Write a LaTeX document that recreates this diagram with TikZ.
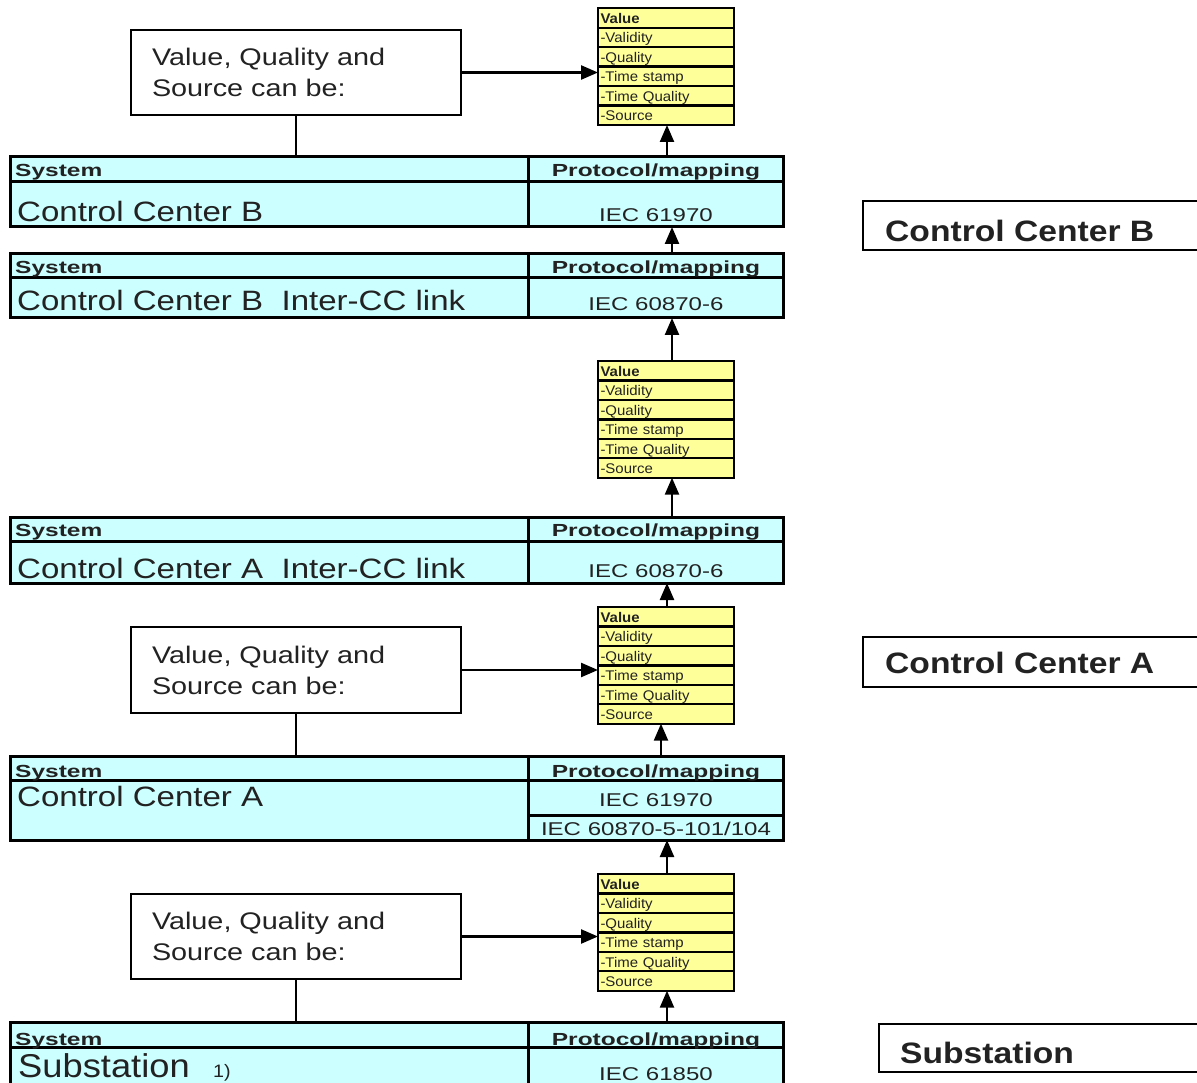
\documentclass[tikz,border=0pt]{standalone}
\usepackage{fontspec}
\setmainfont{Liberation Sans}
\newfontfamily\qfam[FakeStretch=1.07]{Liberation Sans}
\newfontfamily\hdrfam[FakeStretch=1.4]{Liberation Sans}
\newfontfamily\sysfam[FakeStretch=1.18]{Liberation Sans}
\newfontfamily\subfam[FakeStretch=1.1]{Liberation Sans}
\newfontfamily\protfam[FakeStretch=1.3]{Liberation Sans}
\newfontfamily\vfam[FakeStretch=1.2]{Liberation Sans}
\newfontfamily\lblfam[FakeStretch=1.14]{Liberation Sans}
\usetikzlibrary{arrows.meta,calc}

\definecolor{tablecyan}{HTML}{CCFFFF}
\definecolor{qualyellow}{HTML}{FFFF99}
\definecolor{inkgray}{HTML}{222222}

% rectangular table cell given by its two corners
\newcommand\tcell[5]{%
  \node[cell, minimum width={(#4-#2)*1pt}, minimum height={(#5-#3)*1pt}] (#1) at (#2,#3) {};}

% stack of the six data attributes
\newcommand\qualstack[2]{%
  \node[qcell] (#1-1) at (598,#2) {\textbf{Value}};
  \node[qcell] (#1-2) at (#1-1.south west) {-Validity};
  \node[qcell] (#1-3) at (#1-2.south west) {-Quality};
  \node[qcell] (#1-4) at (#1-3.south west) {-Time stamp};
  \node[qcell] (#1-5) at (#1-4.south west) {-Time Quality};
  \node[qcell] (#1-6) at (#1-5.south west) {-Source};}

\tikzset{
  cell/.style={draw=black, line width=3pt, fill=tablecyan, anchor=north west,
    inner sep=0pt, outer sep=0pt},
  qcell/.style={draw=black, line width=2.3pt, fill=qualyellow, anchor=north west,
    minimum width=136pt, minimum height=19.45pt, inner xsep=2.5pt, inner ysep=0pt,
    outer sep=0pt, text width=131pt, align=left, text height=11pt, text depth=0pt,
    text=inkgray, font=\qfam\fontsize{14}{16}\selectfont},
  vbox/.style={draw=black, line width=1.6pt, fill=white, anchor=north west,
    minimum width=330pt, inner xsep=21pt, inner ysep=0pt, outer sep=0pt,
    text width=288pt, align=left, text=inkgray,
    font=\vfam\fontsize{24}{31}\selectfont},
  lbox/.style={draw=black, line width=2.2pt, fill=white, anchor=north west,
    minimum width=400pt, inner sep=0pt, outer sep=0pt},
  txt/.style={inner sep=0pt, text=inkgray},
  hdr/.style={txt, font=\hdrfam\bfseries\fontsize{17.5}{20}\selectfont},
  sysname/.style={txt, anchor=base west, font=\sysfam\fontsize{28}{32}\selectfont},
  prot/.style={txt, anchor=base, font=\protfam\fontsize{18.5}{22}\selectfont},
  lbl/.style={txt, anchor=base west, font=\lblfam\bfseries\fontsize{29.5}{34}\selectfont},
  arr/.style={line width=2.4pt, -{Triangle[width=14pt,length=17pt]}},
  link/.style={line width=1.6pt},
}

\begin{document}
\begin{tikzpicture}[x=1pt, y=-1pt]
\useasboundingbox (0,0) rectangle (1197,1083);
\clip (0,0) rectangle (1197,1083);

% ---- Control Center B
\tcell{t1hl}{10}{157}{528}{182}
\tcell{t1hr}{528}{157}{783}{182}
\tcell{t1bl}{10}{182}{528}{227}
\tcell{t1br}{528}{182}{783}{227}
\node[hdr, anchor=base west] (t1sys) at (15,177) {System};
\node[hdr, anchor=base] (t1prot) at (656,177) {Protocol/mapping};
\node[sysname] (t1name) at (17,222) {Control Center B};
\node[prot] (t1map) at (656,222) {IEC 61970};

% ---- Control Center B, inter-CC link
\tcell{t2hl}{10}{254}{528}{278}
\tcell{t2hr}{528}{254}{783}{278}
\tcell{t2bl}{10}{278}{528}{318}
\tcell{t2br}{528}{278}{783}{318}
\node[hdr, anchor=base west] (t2sys) at (15,274) {System};
\node[hdr, anchor=base] (t2prot) at (656,274) {Protocol/mapping};
\node[sysname] (t2name) at (17,311) {Control Center B\ \ Inter-CC link};
\node[prot] (t2map) at (656,311) {IEC 60870-6};

% ---- Control Center A, inter-CC link
\tcell{t3hl}{10}{517}{528}{541}
\tcell{t3hr}{528}{517}{783}{541}
\tcell{t3bl}{10}{541}{528}{583}
\tcell{t3br}{528}{541}{783}{583}
\node[hdr, anchor=base west] (t3sys) at (15,536) {System};
\node[hdr, anchor=base] (t3prot) at (656,536) {Protocol/mapping};
\node[sysname] (t3name) at (17,578) {Control Center A\ \ Inter-CC link};
\node[prot] (t3map) at (656,577) {IEC 60870-6};

% ---- Control Center A
\tcell{t4hl}{10}{756}{528}{780}
\tcell{t4hr}{528}{756}{783}{780}
\tcell{t4bl}{10}{780}{528}{840}
\tcell{t4br}{528}{780}{783}{815}
\tcell{t4bs}{528}{815}{783}{840}
\node[hdr, anchor=base west] (t4sys) at (15,777) {System};
\node[hdr, anchor=base] (t4prot) at (656,777) {Protocol/mapping};
\node[sysname] (t4name) at (17,806) {Control Center A};
\node[prot] (t4map) at (656,806) {IEC 61970};
\node[prot] (t4mapb) at (656,835) {IEC 60870-5-101/104};

% ---- Substation
\tcell{t5hl}{10}{1022}{528}{1047}
\tcell{t5hr}{528}{1022}{783}{1047}
\tcell{t5bl}{10}{1047}{528}{1110}
\tcell{t5br}{528}{1047}{783}{1110}
\node[hdr, anchor=base west] (t5sys) at (15,1045) {System};
\node[hdr, anchor=base] (t5prot) at (656,1045) {Protocol/mapping};
\node[txt, anchor=base west, font=\subfam\fontsize{33}{38}\selectfont] (t5name) at (18,1077) {Substation};
\node[txt, anchor=base west, font=\subfam\fontsize{18}{22}\selectfont] (t5note) at (213,1077) {1)};
\node[prot] (t5map) at (656,1080) {IEC 61850};

% ---- attribute stacks
\qualstack{y1}{8.3}
\qualstack{y2}{361}
\qualstack{y3}{607}
\qualstack{y4}{874}

% ---- explanation boxes
\node[vbox, minimum height=85pt] (vb1) at (131,30) {Value, Quality and\\Source can be:};
\node[vbox, minimum height=86pt] (vb2) at (131,627) {Value, Quality and\\Source can be:};
\node[vbox, minimum height=85pt] (vb3) at (131,894) {Value, Quality and\\Source can be:};

\draw[arr] (vb1.east) -- (vb1.east -| y1-4.west);
\draw[arr] (vb2.east) -- (vb2.east -| y3-4.west);
\draw[arr] (vb3.east) -- (vb3.east -| y4-4.west);
\draw[link] (vb1.south) -- (vb1.south |- t1hl.north);
\draw[link] (vb2.south) -- (vb2.south |- t4hl.north);
\draw[link] (vb3.south) -- (vb3.south |- t5hl.north);

% ---- upward data flow
\draw[arr] ($(t1hr.north -| y1-6.south)+(1,0)$) -- ($(y1-6.south)+(1,0)$);
\draw[arr] ($(t2hr.north -| y1-6.south)+(6,0)$) -- ($(t1br.south -| y1-6.south)+(6,0)$);
\draw[arr] ($(y2-1.north)+(6,0)$) -- ($(t2br.south -| y2-1.north)+(6,0)$);
\draw[arr] ($(t3hr.north -| y2-6.south)+(6,0)$) -- ($(y2-6.south)+(6,0)$);
\draw[arr] ($(y3-1.north)+(1,0)$) -- ($(t3br.south -| y3-1.north)+(1,0)$);
\draw[arr] ($(t4hr.north -| y3-6.south)+(-5,0)$) -- ($(y3-6.south)+(-5,0)$);
\draw[arr] ($(y4-1.north)+(1,0)$) -- ($(t4bs.south -| y4-1.north)+(1,0)$);
\draw[arr] ($(t5hr.north -| y4-6.south)+(1,0)$) -- ($(y4-6.south)+(1,0)$);

% ---- level labels
\node[lbox, minimum height=49pt] (lbB) at (863,201) {};
\node[lbox, minimum height=50pt] (lbA) at (863,637) {};
\node[lbox, minimum height=48pt] (lbS) at (879,1024) {};
\node[lbl] (lbBt) at (885,242) {Control Center B};
\node[lbl] (lbAt) at (885,673) {Control Center A};
\node[lbl] (lbSt) at (900,1063) {Substation};
\end{tikzpicture}
\end{document}
